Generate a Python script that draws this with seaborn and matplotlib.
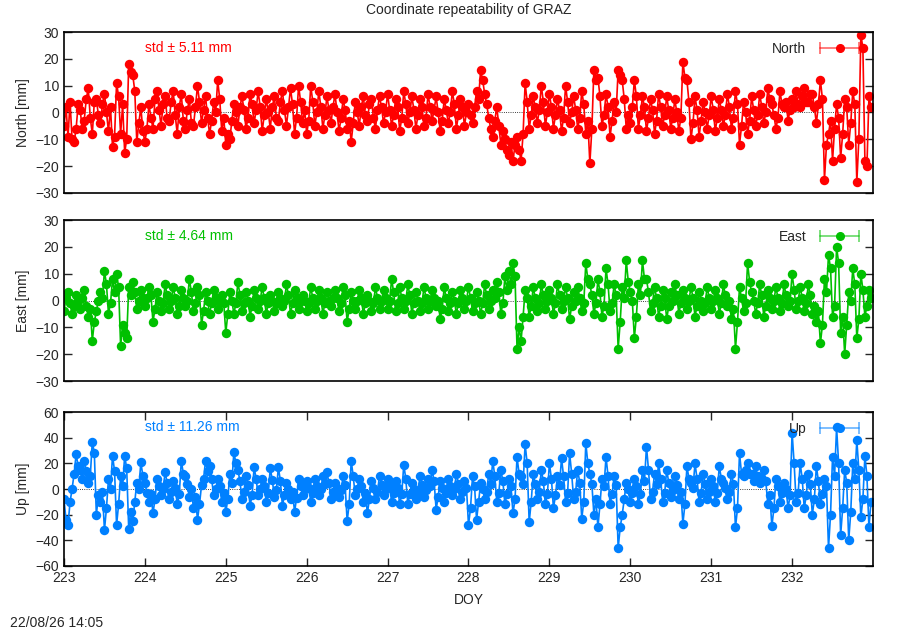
import numpy as np
import matplotlib
matplotlib.use("Agg")
import matplotlib.pyplot as plt
import seaborn as sns
from matplotlib.lines import Line2D
from matplotlib.legend_handler import HandlerLine2D, HandlerTuple

sns.set_style("ticks")
plt.rcParams['font.family'] = ['Liberation Sans', 'DejaVu Sans']
plt.rcParams['font.size'] = 10

# residuals in mm, one value every 0.025 day (40 per day), DOY 223..232
north = (
    [-5, 2, -9, 4, -10, -11, -6, 3, 1, -6, -3, 5, 9, -2, -8, 4, 5, -1, -4, 3,
     7, 0, -7, 2, -13, -9, 11, 6, -8, 3, -15, -10, 18, 15, 14, 8, -11, -4, 2, -7] +
    [-11, -6, 3, -2, -6, 5, 8, 1, -5, 3, 6, -2, -3, 4, 8, -1, -8, 2, 7, -3,
     -6, 1, 5, -4, -5, 2, 10, 4, -4, 1, 6, -2, -8, -3, 4, 0, 12, 5, -7, -2] +
    [-12, -8, -10, -3, 3, 0, -5, 2, 6, 1, -6, -2, 7, 3, -4, 1, 8, 2, -7, -1,
     5, 0, -6, 2, 6, -2, -3, 4, 8, 1, -5, 2, 9, 3, -8, -2, 10, 4, -4, 1] +
    [-8, -3, 10, 4, -5, 0, 8, 2, -6, -1, 6, 1, -4, 2, 7, 0, -7, -2, 5, 1,
     -6, -3, -11, -4, 4, 0, -5, 2, 6, -1, -3, 3, 5, -2, -6, 1, 6, 2, -4, 0] +
    [7, 1, -5, -1, 5, 2, -7, -2, 8, 3, -4, 0, 6, 1, -6, -1, 5, 2, -5, -2,
     7, 2, -3, 1, 6, 0, -7, -3, 5, 1, -4, 0, 8, 3, -6, -1, 5, 2, -5, 0] +
    [3, -1, -4, 2, 8, 5, 16, 12, 7, 3, -2, -6, -9, -3, 2, -5, -12, -7, -10, -14,
     -16, -11, -18, -12, -9, -14, -18, -8, 11, 4, -6, -1, 6, 2, -4, 1, 10, 4, -5, 0] +
    [7, 2, -6, -1, 5, 1, -7, -2, 10, 4, -4, 0, 6, 1, -6, -2, 8, 3, -8, -3,
     -19, -6, 16, 12, 13, 6, -5, -1, 7, 2, -9, -3, 4, 0, 16, 14, 12, 5, -6, -1] +
    [-4, 2, 12, 6, -6, -1, 6, 2, -7, -2, 5, 1, -8, -3, 7, 2, -5, -1, 6, 1,
     -6, -2, 5, 0, -7, -2, 19, 13, 12, 4, -10, -4, 6, 1, -9, -3, 4, 0, -6, -1] +
    [6, 1, -7, -2, 5, 1, -5, -1, 7, 2, -6, -2, 8, 3, -12, -5, 4, 0, -8, -3,
     6, 1, -5, -1, 7, 2, -4, 0, 9, 5, 3, -1, -6, -2, 8, 3, 2, 4, -3, 1] +
    [5, 2, 8, 3, 2, 6, 9, 4, 4, 7, 7, 2, -4, 3, 12, 5, -25, -12, -8, -3,
     -18, -6, 3, -2, -17, -8, 5, 2, -12, -4, 8, 3, -26, -10, 29, 24, -18, -20, 6, 2]
)
east = (
    [-4, 1, 3, -1, -5, -2, 2, 0, -3, 1, 4, -2, -6, -3, -15, -8, -4, 0, 3, 1,
     11, 6, -5, -1, 8, 3, 10, 5, -17, -9, -12, -14, 5, 2, 7, 3, -3, 0, 4, 1] +
    [-2, 1, 5, 2, -8, -3, 3, 0, -4, -1, 6, 2, -3, 0, 5, 1, -5, -2, 4, 1,
     -2, 0, 8, 3, -4, -1, 5, 2, -9, -4, 3, 0, -5, -1, 4, 1, -3, 0, 2, -1] +
    [-12, -5, 3, 0, -5, -1, 7, 2, -4, -1, 3, 0, -6, -2, 4, 1, -3, 0, 5, 1,
     -5, -1, 2, 0, -4, -1, 3, 1, -2, 0, 6, 2, -5, -1, 4, 1, -3, 0, 2, 0] +
    [-4, -1, 5, 1, -3, 0, 4, 1, -5, -1, 3, 0, -2, 1, 4, 1, -4, -1, 5, 2,
     -8, -3, 3, 0, -3, 0, 4, 1, -5, -1, 2, 0, -4, -1, 5, 1, -3, 0, 4, 1] +
    [-3, 0, 8, 3, -4, -1, 5, 1, -3, 0, 6, 2, -5, -1, 3, 0, -4, -1, 5, 1,
     -3, 0, 4, 1, -2, 0, -7, -3, 5, 1, -4, -1, 3, 0, -5, -1, 4, 1, -3, 0] +
    [5, 1, -4, -1, 3, 0, -5, -1, 6, 2, -3, 0, 4, 1, 7, 3, -5, -1, 9, 4,
     11, 6, 14, 9, -18, -10, -15, -6, 4, 1, -6, -2, 5, 1, -4, -1, 6, 2, -3, 0] +
    [4, 1, -5, -1, 6, 2, -3, 0, 5, 1, -7, -2, 3, 0, 5, 1, -4, -1, 14, 8,
     6, 2, -5, -1, 8, 3, -6, -2, 12, 6, -4, -1, 6, 2, -18, -8, 5, 1, 15, 7] +
    [3, 0, -14, -6, 6, 2, 15, 8, 8, 3, -4, -1, 5, 1, -6, -2, 4, 1, -7, -2,
     3, 0, 6, 2, -5, -1, 4, 1, -3, 0, 5, 1, -6, -2, 3, 0, -4, -1, 5, 1] +
    [-3, 0, 4, 1, -5, -1, 6, 2, -2, 0, -7, -3, -18, -8, 5, 1, -4, -1, 14, 7,
     3, 0, -5, -1, 6, 2, -6, -2, 4, 1, -3, 0, 5, 1, -4, -1, 6, 2, -2, 0] +
    [10, 4, -3, 0, 5, 1, -4, -1, 6, 2, -5, -2, -8, -4, -16, -9, 8, 3, 17, 12,
     -6, -2, 20, 14, -12, -6, -20, -9, 3, 0, 12, 6, -14, -7, 10, 4, -6, -2, 4, 1]
)
up = (
    [-8, -24, -28, -10, 0, 12, 27, 18, 15, 8, 22, 14, 5, 10, 37, 28, -20, -5, -10, -2,
     -32, -15, 8, 0, 26, 14, -28, -12, 10, 2, 26, 16, -31, -18, -25, -10, 5, 0, 21, 10] +
    [5, -3, -10, -4, -19, -8, 8, 2, -5, 0, 13, 5, -8, -2, 6, 1, -12, -4, 22, 12,
     10, 4, -6, 0, -15, -6, -24, -12, 3, 8, 22, 14, 18, 8, -5, 0, 8, 2, -10, -3] +
    [-18, -8, 12, 5, 29, 20, 15, 6, -8, -2, 10, 3, -13, -5, 17, 8, -5, 0, 8, 2,
     -10, -3, 16, 7, -6, -1, 17, 6, -13, -5, 5, 0, -8, -2, -18, -7, 8, 2, -5, 0] +
    [6, 1, -10, -3, 8, 2, -5, 0, 10, 4, 13, 5, -8, -2, 5, 1, -6, -1, 10, 3,
     -25, -12, 22, 10, -5, 0, 8, 2, -10, -3, -19, -8, 6, 1, -8, -2, 10, 3, -5, 0] +
    [8, 2, -10, -3, 6, 1, -12, -4, 19, 8, -12, -4, 5, 0, -8, -2, 10, 3, -6, -1,
     8, 2, 15, 6, -16, -6, 6, 1, -10, -3, 8, 2, -5, 0, 12, 4, -8, -2, 6, 1] +
    [-28, -15, 10, 2, -24, -10, 5, 0, -8, -2, 12, 4, 22, 10, -10, -3, 15, 6, -12, -4,
     8, 2, -19, -8, 25, 12, 10, 4, 35, 20, -26, -10, 12, 4, -8, -2, 15, 6, -12, -4] +
    [20, 8, -15, -5, 10, 3, 24, 10, -10, -3, 28, 12, -8, -2, 15, 5, -23, -10, 36, 20,
     12, 4, -20, -8, -30, -12, 8, 2, 25, 10, -12, -4, 10, 3, -46, -30, -20, -8, 5, 0] +
    [-10, -3, 8, 2, -12, -4, 15, 6, 33, 15, -8, -2, 12, 4, 20, 8, -10, -3, 15, 5,
     -6, -1, 10, 3, -8, -2, -27, -12, 18, 8, 5, 1, 20, 8, -10, -3, 12, 4, -8, -2] +
    [8, 2, -10, -3, 18, 8, 5, 1, -8, -2, 12, 4, -30, -15, 28, 12, 10, 15, 20, 12,
     12, 6, 18, 10, 5, 8, 15, 6, -12, -5, -29, -15, 8, 2, -10, -3, 5, 0, -15, -5] +
    [44, 20, -10, -3, 20, 8, -15, -5, 12, 4, -20, -8, 18, 6, -12, -4, 8, 2, -46, -20,
     25, 10, 48, 20, -36, -15, 15, 5, -40, -18, 20, 8, 38, 15, -22, -8, 26, 10, -30, -10]
)

names = ["North", "East", "Up"]
series = [north, east, up]
stds = [5.11, 4.64, 11.26]
colors = ["#ff0000", "#00c000", "#0080ff"]
ylims = [(-30, 30), (-30, 30), (-60, 60)]
ysteps = [10, 10, 20]
xticks = list(range(223, 233))

fig = plt.figure(figsize=(9, 6.3), dpi=100, facecolor='w')
boxes = [[0.0711, 0.6937, 0.8989, 0.2555],
         [0.0711, 0.3952, 0.8989, 0.2555],
         [0.0711, 0.1016, 0.8989, 0.2444]]

for i in range(3):
    ax = fig.add_axes(boxes[i])
    c = colors[i]
    vals = series[i]
    doy = 223 + np.arange(len(vals)) * 0.025
    ax.axhline(0, color='black', lw=0.6, ls=':', zorder=1)
    sns.lineplot(x=doy, y=vals, ax=ax, color=c, marker='o', markersize=6.8,
                 markeredgewidth=0, linewidth=1.2, estimator=None, sort=False, zorder=2)
    ax.set_xlim(223, 233)
    lo, hi = ylims[i]
    ax.set_ylim(lo, hi)
    ax.set_yticks(np.arange(lo, hi + 1, ysteps[i]))
    ax.set_ylabel(names[i] + " [mm]")
    ax.tick_params(direction='in', length=6, width=1, right=True, labelsize=10)
    if i < 2:
        ax.set_xticks([])
        ax.set_xlabel("")
    else:
        ax.set_xticks(xticks)
        ax.tick_params(axis='x', top=True)
        ax.set_xlabel("DOY", labelpad=6)
    for s in ax.spines.values():
        s.set_visible(True)
        s.set_linewidth(1.2)
        s.set_color('black')

    ax.text(0.1, 0.9, "std \u00b1 %.2f mm" % stds[i], color=c, transform=ax.transAxes,
            ha='left', va='center', fontsize=10)

    bar = Line2D([], [], color=c, lw=1.2, alpha=0.6, marker='|', markersize=8,
                 markeredgewidth=1.2)
    dot = Line2D([], [], color=c, ls='none', marker='o', markersize=5.5)
    ax.legend([(bar, dot)], [names[i]], loc='upper right', frameon=False,
              markerfirst=False, handlelength=3.4, handletextpad=0.7, borderaxespad=0.3,
              handler_map={bar: HandlerLine2D(numpoints=2),
                           dot: HandlerLine2D(numpoints=1),
                           tuple: HandlerTuple()})

fig.text(0.5206, 1 - 10 / 630, "Coordinate repeatability of GRAZ", ha='center', va='center',
         fontsize=10)
fig.text(10 / 900, 1 - 627 / 630, "22/08/26 14:05", ha='left', va='baseline', fontsize=10)

fig.savefig("out.png", dpi=100, facecolor='w')
